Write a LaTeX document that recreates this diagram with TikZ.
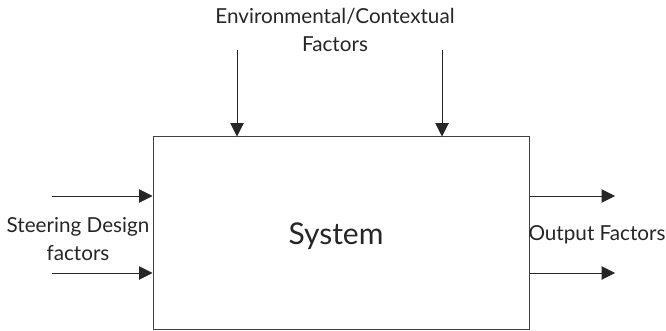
\documentclass[tikz,border=0pt]{standalone}
\usepackage{fontspec}
\setmainfont{Lato}
\usetikzlibrary{arrows.meta}
\begin{document}
\begin{tikzpicture}[x=0.75pt,y=-0.75pt,
    lbl/.style={font=\fontsize{15.5}{20}\selectfont,text=black!85,align=center,inner sep=0pt},
    flow/.style={draw=black!85,line width=0.75pt,-{Triangle[length=10pt,width=10pt]}}]
      \useasboundingbox (0,0) rectangle (666,331);
      \draw
        (341,233) node[draw=black!75,line width=0.75pt,minimum width=282pt,minimum height=144pt,inner sep=0pt] (sys){}
        (336,236) node[font=\fontsize{22.5}{26}\selectfont,text=black!85] (name){System}
        (335,30) node[lbl] (env){Environmental/Contextual\\[1pt]Factors}
        (78,239) node[lbl] (steer){Steering Design\\[1pt]factors}
        (597,235) node[lbl] (out){Output Factors};
      \coordinate (e1) at (237,50);
      \coordinate (e2) at (442,50);
      \coordinate (s1) at (52,196);
      \coordinate (s2) at (52,273);
      \coordinate (o1) at (615,196);
      \coordinate (o2) at (615,273);
      \begin{scope}[flow]
        \draw (e1) to (e1|-sys.north);
        \draw (e2) to (e2|-sys.north);
        \draw (s1) to (s1-|sys.west);
        \draw (s2) to (s2-|sys.west);
        \draw (o1-|sys.east) to (o1);
        \draw (o2-|sys.east) to (o2);
      \end{scope}
    \end{tikzpicture}
\end{document}
